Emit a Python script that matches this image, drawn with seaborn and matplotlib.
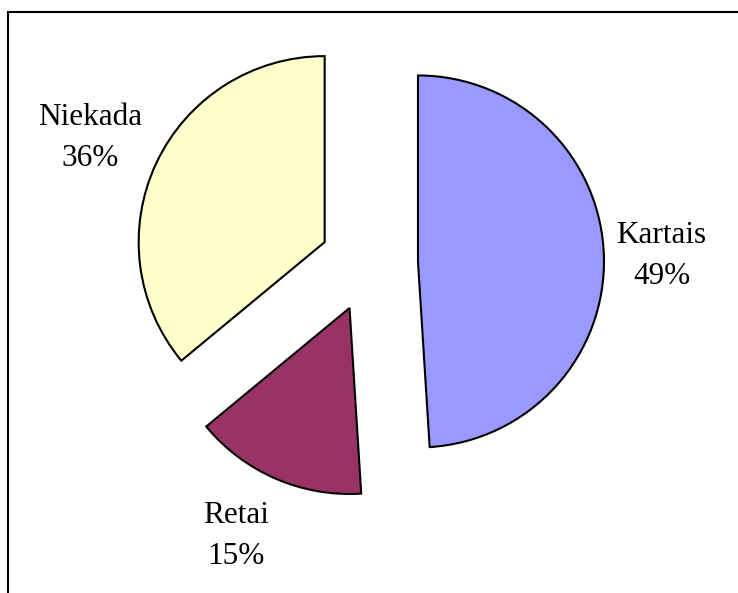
import numpy as np
import matplotlib.pyplot as plt
import matplotlib.patches as mpatches
import seaborn as sns

# data
labels = ["Kartais", "Retai", "Niekada"]
shares = [49, 15, 36]
colors = ["#9999FF", "#993366", "#FFFFCC"]

sns.set_theme(style="white")
plt.rcParams['font.family'] = ['Liberation Serif', 'DejaVu Serif']

fig = plt.figure(figsize=(7.38, 5.93), dpi=100)
ax = fig.add_axes([0, 0, 1, 1])

wedges, _ = ax.pie(shares, colors=colors, startangle=90, counterclock=False,
                   center=(369, 330), radius=186, explode=[49] * len(shares),
                   wedgeprops=dict(edgecolor='black', linewidth=1.5),
                   frame=True)
ax.axis('off')
ax.set_xlim(0, 738)
ax.set_ylim(0, 593)
ax.set_aspect('equal')

# labels outside each wedge (distance in radii, angle nudge in degrees)
label_dist = [1.31, 1.37, 1.38]
label_turn = [-0.5, -3.0, 1.2]
for w, name, val, d, t in zip(wedges, labels, shares, label_dist, label_turn):
    th = np.deg2rad((w.theta1 + w.theta2) / 2 + t)
    cx, cy = w.center
    x = cx + d * w.r * np.cos(th)
    y = cy + d * w.r * np.sin(th)
    ax.text(x, y, f"{name}\n{val}%", ha='center', va='center',
            fontsize=22.5, linespacing=1.55, color='black')

# outer frame
fig.patches.append(mpatches.Rectangle((8 / 738, -0.1), 1.0, 1 - 12 / 593 + 0.1,
                                      transform=fig.transFigure, fill=False,
                                      edgecolor='black', linewidth=1.5))

fig.savefig("out.png", dpi=100)
